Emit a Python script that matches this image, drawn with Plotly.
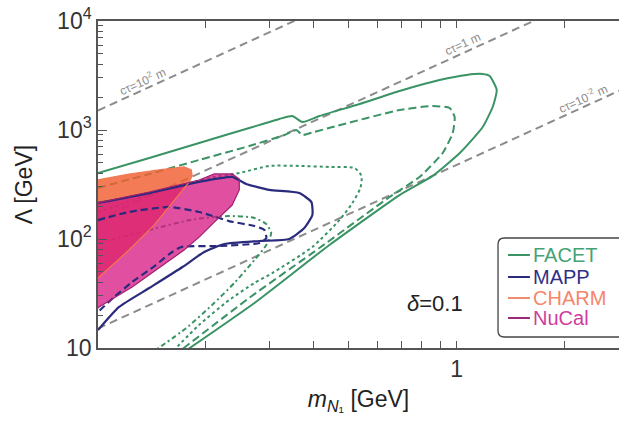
import numpy as np
import plotly.graph_objects as go

# ---------------- data ----------------
# decay-length reference lines c*tau = const (straight on log-log), end points
ctau_1e2_m = [0.1, 0.4]
ctau_1e2_lam = [1510, 12100]
ctau_1_m = [0.1, 2.0]
ctau_1_lam = [151, 13500]
ctau_1em2_m = [0.1, 3.0]
ctau_1em2_lam = [15.1, 2490]

# FACET sensitivity contours
facet_solid_m = [0.1, 0.139, 0.1914, 0.264, 0.3205, 0.348, 0.3715, 0.414, 0.536, 0.693,
                 0.896, 1.066, 1.182, 1.236, 1.293, 1.26, 1.182, 1.02, 0.857, 0.693,
                 0.4417, 0.273, 0.177]
facet_solid_lam = [403, 554, 760, 1043, 1262, 1343, 1184, 1343, 1733, 2280,
                   2875, 3200, 3265, 3130, 2330, 1626, 1066, 615, 379, 253,
                   88.1, 25.9, 9.6]

facet_dash_m = [0.1, 0.139, 0.1914, 0.264, 0.331, 0.357, 0.3715, 0.401, 0.451, 0.693,
                0.857, 0.956, 0.987, 0.975, 0.914, 0.788, 0.650, 0.414, 0.264, 0.1706]
facet_dash_lam = [294, 395, 531, 713, 900, 1000, 900, 959, 1066, 1525,
                  1660, 1592, 1315, 938, 615, 371, 243, 82.6, 28.8, 9.6]

facet_dot_m = [0.1, 0.148, 0.204, 0.2477, 0.3005, 0.364, 0.4417, 0.519, 0.543, 0.539,
               0.512, 0.471, 0.396, 0.306, 0.273, 0.232, 0.1914, 0.163]
facet_dot_lam = [177, 270, 363, 403, 468, 468, 458, 448, 379, 294,
                 214, 149, 84.5, 48.7, 39.5, 27.5, 16.3, 9.6]

facet_dashdot_m = [0.1, 0.139, 0.1854, 0.232, 0.273, 0.2946, 0.304, 0.2946, 0.273, 0.240,
                   0.208, 0.176, 0.145]
facet_dashdot_lam = [91.9, 121, 152, 162.5, 156, 137, 113.5, 88.1, 64.1, 39.5,
                     24.8, 15.2, 9.6]

# MAPP sensitivity contours
mapp_solid_m = [0.1, 0.139, 0.1914, 0.2366, 0.259, 0.3005, 0.364, 0.3936, 0.396, 0.376,
                0.3415, 0.282, 0.225, 0.1977, 0.172, 0.139, 0.1145, 0.1]
mapp_solid_lam = [214, 264, 334, 371, 320, 282, 264, 218, 166, 126,
                  100, 95.9, 90.0, 76.0, 55.3, 35.5, 23.8, 14.6]

mapp_dash_m = [0.1, 0.122, 0.158, 0.1914, 0.232, 0.273, 0.291, 0.2946, 0.282, 0.218,
               0.1706, 0.158, 0.145, 0.1245, 0.111, 0.1]
mapp_dash_lam = [149, 177, 197, 177, 146, 131.6, 121, 102, 91.9, 86.3,
                 84.5, 72.8, 57.7, 40.3, 29.4, 21.4]

# excluded regions
charm_m = [0.1, 0.122, 0.148, 0.1738, 0.182, 0.183, 0.1796, 0.163, 0.1433, 0.122, 0.107, 0.1]
charm_lam = [348, 395, 430, 458, 430, 379, 334, 228, 134, 79.2, 54.2, 43.9]

nucal_m = [0.1, 0.139, 0.1914, 0.211, 0.2366, 0.2477, 0.2477, 0.2366, 0.211, 0.1914,
           0.1738, 0.155, 0.1245, 0.1007, 0.1]
nucal_lam = [214, 270, 348, 395, 395, 355, 282, 205, 143, 104,
             79.2, 60.2, 36.3, 23.8, 23.3]

# axes
x_label_vals = [1]
x_label_text = ["1"]
x_minor_vals = [0.1, 0.2, 0.3, 0.4, 0.5, 0.6, 0.7, 0.8, 0.9, 2, 3]
y_tick_vals = [10, 100, 1000, 10000]
y_tick_text = ["10", "10<sup>2</sup>", "10<sup>3</sup>", "10<sup>4</sup>"]
y_minor_vals = [k * 10 ** d for d in (1, 2, 3) for k in range(2, 10)]

# legend entries
legend_names = ["FACET", "MAPP", "CHARM", "NuCal"]

# ---------------- style ----------------
GREEN = "#3a9364"
NAVY = "#2b2b7e"
ORANGE = "#f07850"
MAGENTA = "#d8309a"
GRAY = "#8c8c8c"
FONT = "Liberation Sans, Arial, Helvetica, sans-serif"
legend_text_colors = ["#45a275", "#2f2f88", "#f5866a", "#d03c9c"]
legend_line_colors = [GREEN, NAVY, "#f28a6e", "#9a2a78"]

fig = go.Figure()

# c*tau reference lines
for xs, ys in [(ctau_1e2_m, ctau_1e2_lam), (ctau_1_m, ctau_1_lam), (ctau_1em2_m, ctau_1em2_lam)]:
    fig.add_trace(go.Scatter(x=xs, y=ys, mode="lines", showlegend=False, hoverinfo="skip",
                             line=dict(color=GRAY, width=2, dash="8px,5px")))

# FACET contours (drawn below the shaded regions)
fig.add_trace(go.Scatter(x=facet_dashdot_m, y=facet_dashdot_lam, mode="lines", name="FACET",
                         line=dict(color=GREEN, width=2, dash="5px,3px,2px,3px", shape="spline", smoothing=0.6)))
fig.add_trace(go.Scatter(x=facet_dot_m, y=facet_dot_lam, mode="lines", name="FACET",
                         line=dict(color=GREEN, width=2, dash="3px,3px", shape="spline", smoothing=0.6)))
fig.add_trace(go.Scatter(x=facet_dash_m, y=facet_dash_lam, mode="lines", name="FACET",
                         line=dict(color=GREEN, width=2, dash="8px,4px", shape="spline", smoothing=0.5)))
fig.add_trace(go.Scatter(x=facet_solid_m, y=facet_solid_lam, mode="lines", name="FACET",
                         line=dict(color=GREEN, width=2, shape="spline", smoothing=0.5)))

# CHARM and NuCal excluded regions
fig.add_trace(go.Scatter(x=charm_m, y=charm_lam, mode="lines", fill="toself", name="CHARM",
                         fillcolor="rgba(240,95,50,0.82)", line=dict(width=0), hoverinfo="skip"))
fig.add_trace(go.Scatter(x=nucal_m, y=nucal_lam, mode="lines", fill="toself", name="NuCal",
                         fillcolor="rgba(215,20,130,0.75)", line=dict(width=0), hoverinfo="skip"))

# MAPP contours
fig.add_trace(go.Scatter(x=mapp_dash_m, y=mapp_dash_lam, mode="lines", name="MAPP",
                         line=dict(color=NAVY, width=2.2, dash="7px,4px", shape="spline", smoothing=0.5)))
fig.add_trace(go.Scatter(x=mapp_solid_m, y=mapp_solid_lam, mode="lines", name="MAPP",
                         line=dict(color=NAVY, width=2.2, shape="spline", smoothing=0.5)))

# region outlines
fig.add_trace(go.Scatter(x=charm_m, y=charm_lam, mode="lines", name="CHARM",
                         line=dict(color=ORANGE, width=1.2)))
fig.add_trace(go.Scatter(x=nucal_m, y=nucal_lam, mode="lines", name="NuCal",
                         line=dict(color="#a02070", width=1.2)))

# labels on the c*tau lines, sitting just above each line
label_specs = [
    (ctau_1e2_m, ctau_1e2_lam, 0.1327, "c\u03c4=10<sup>2</sup> m"),
    (ctau_1_m, ctau_1_lam, 1.039, "c\u03c4=1 m"),
    (ctau_1em2_m, ctau_1em2_lam, 2.249, "c\u03c4=10<sup>-2</sup> m"),
]
for xs, ys, m_lab, txt in label_specs:
    lx = np.log10(m_lab)
    ly = np.interp(lx, np.log10(xs), np.log10(ys))
    fig.add_annotation(x=lx, y=ly, xref="x", yref="y", text=txt, showarrow=False,
                       textangle=-24.5, yshift=9, font=dict(size=12, color=GRAY, family=FONT))

fig.add_annotation(x=0.647, y=0.092, xref="paper", yref="paper", text="<i>\u03b4</i>=0.1",
                   showarrow=False, font=dict(size=22, color="#222", family=FONT))

# compact framed legend in the lower-right corner (paper coordinates)
box_l, box_r, box_t, box_b, rad = 0.7678, 1.03, 0.3364, 0.0336, 0.012
fig.add_shape(type="path", xref="paper", yref="paper",
              path=(f"M {box_l + rad},{box_b} L {box_r},{box_b} L {box_r},{box_t} "
                    f"L {box_l + rad},{box_t} Q {box_l},{box_t} {box_l},{box_t - rad * 1.6} "
                    f"L {box_l},{box_b + rad * 1.6} Q {box_l},{box_b} {box_l + rad},{box_b} Z"),
              line=dict(color="#444", width=1.3), fillcolor="white", layer="above")
row_y = [0.2844, 0.2171, 0.1529, 0.0917]
for name, tc, lc, yy in zip(legend_names, legend_text_colors, legend_line_colors, row_y):
    fig.add_shape(type="line", xref="paper", yref="paper", x0=0.787, x1=0.829, y0=yy, y1=yy,
                  line=dict(color=lc, width=2), layer="above")
    fig.add_annotation(x=0.831, y=yy, xref="paper", yref="paper", text=name, showarrow=False,
                       xanchor="left", yanchor="middle",
                       font=dict(size=20, color=tc, family=FONT))

axis_common = dict(showline=True, linecolor="#555", linewidth=1.5, showgrid=False, zeroline=False,
                   ticks="inside", tickcolor="#555", tickwidth=1.2)

fig.update_xaxes(type="log", range=[-1, np.log10(2.835)], tickmode="array",
                 tickvals=x_label_vals, ticktext=x_label_text, ticklen=7, mirror="ticks",
                 minor=dict(tickmode="array", tickvals=x_minor_vals, ticks="inside",
                            ticklen=7, tickcolor="#555", tickwidth=1.2),
                 tickfont=dict(size=23, color="#333", family=FONT),
                 title=dict(text="<i>m</i><sub><i>N</i>\u2081</sub> [GeV]", standoff=10,
                            font=dict(size=23, color="#222", family=FONT)),
                 **axis_common)
fig.update_yaxes(type="log", range=[1, 4], tickmode="array",
                 tickvals=y_tick_vals, ticktext=y_tick_text, ticklen=9, mirror=False,
                 minor=dict(tickmode="array", tickvals=y_minor_vals, ticks="inside",
                            ticklen=5, tickcolor="#555", tickwidth=1),
                 tickfont=dict(size=23, color="#333", family=FONT),
                 title=dict(text="\u039b [GeV]", standoff=18,
                            font=dict(size=23, color="#222", family=FONT)),
                 **axis_common)

fig.update_layout(
    width=619, height=426,
    margin=dict(l=98, r=0, t=21, b=78),
    plot_bgcolor="white", paper_bgcolor="white",
    font=dict(family=FONT, color="#333"),
    showlegend=False,
)

fig.write_html("out.html")
